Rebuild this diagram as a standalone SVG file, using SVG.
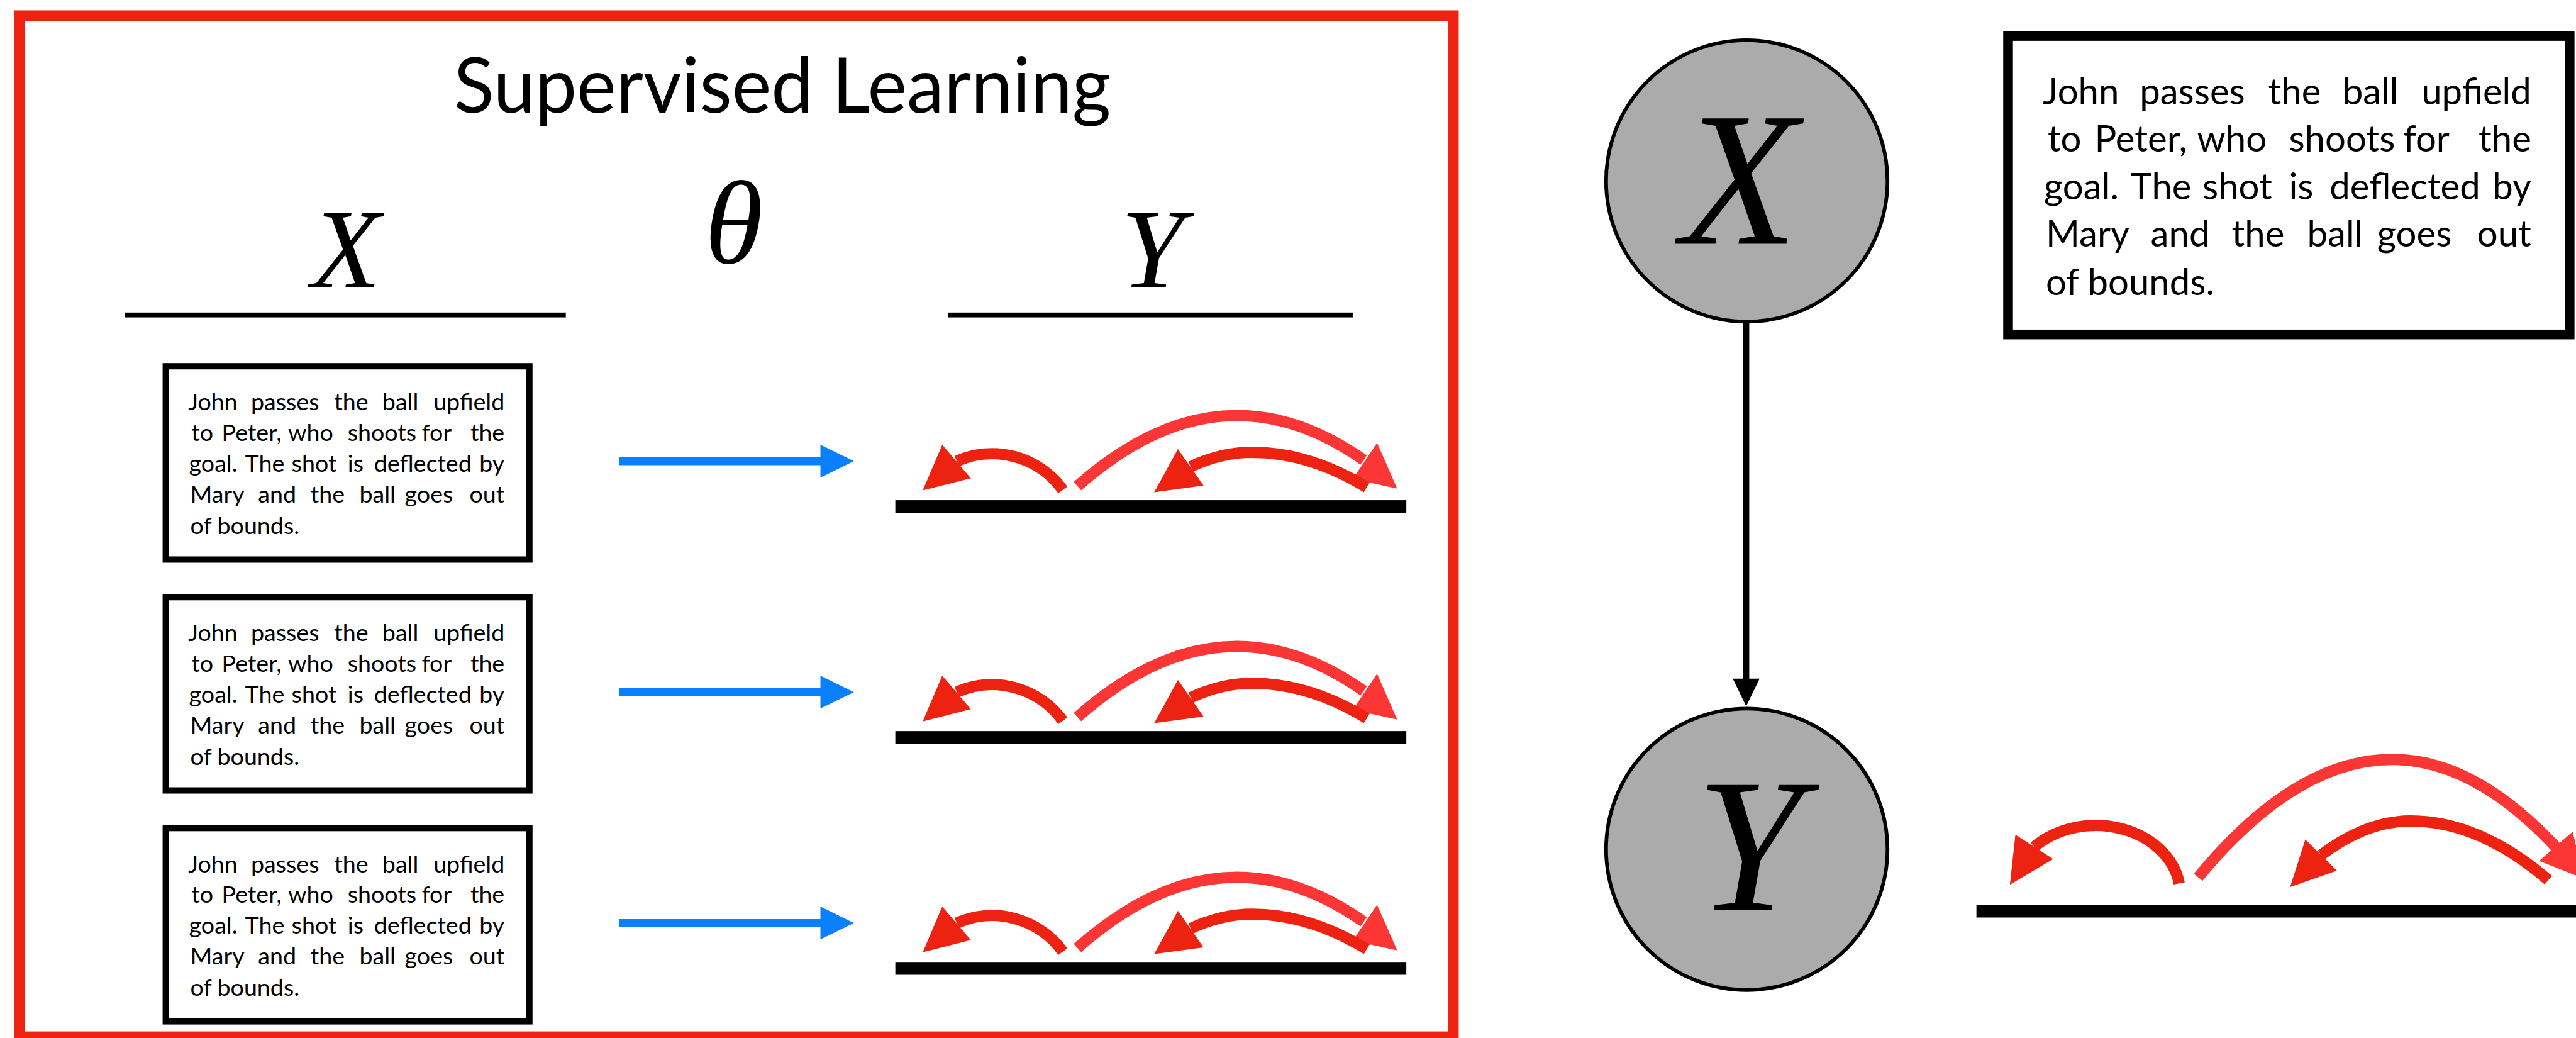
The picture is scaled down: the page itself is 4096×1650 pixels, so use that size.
<svg xmlns="http://www.w3.org/2000/svg" width="4096" height="1650" viewBox="0 0 4096 1650">
<style>
.bt{font-family:Lato,"Open Sans","Liberation Sans",sans-serif;font-size:60px;fill:#000}
.boxr{fill:#fff;stroke:#000;stroke-width:16}
.math{font-family:"Liberation Serif","DejaVu Serif",serif;font-style:italic;fill:#000}
.ad{fill:none;stroke:#EE2211;stroke-width:18.5}
.al{fill:none;stroke:#FC3535;stroke-width:18.5}
.hd{fill:#EE2211}
.hl{fill:#FC3535}
.bar{fill:#000}
.blue{stroke:#0A80FF;stroke-width:13;fill:none}
.blueh{fill:#0A80FF}
.node{fill:#ABABAB;stroke:#000;stroke-width:6}
.end{text-anchor:end}
</style>
<rect width="4096" height="1650" fill="#fff"/>
<g transform="scale(0.96845)">
<g id="frame"><rect x="32" y="26" width="2354" height="1676" fill="none" stroke="#EE2211" stroke-width="18"/></g>
<g id="title"><text x="745" y="185" font-family="Lato,'Open Sans',sans-serif" font-size="127" textLength="1079" lengthAdjust="spacingAndGlyphs">Supervised Learning</text></g>
<g id="labels">
<text class="math" x="568" y="472" font-size="187" text-anchor="middle">X</text>
<text class="math" x="1205" y="432" font-size="195" text-anchor="middle">θ</text>
<text class="math" x="1892" y="472" font-size="187" text-anchor="middle">Y</text>
<rect x="205" y="513" width="724" height="8" fill="#000"/>
<rect x="1557" y="513" width="664" height="8" fill="#000"/>
</g>
<g id="box-1" transform="translate(267,596) scale(0.6475)">
<rect x="8" y="8" width="922" height="490" class="boxr"/>
<text class="bt" y="120"><tspan x="65">John</tspan><tspan x="224">passes</tspan><tspan x="435">the</tspan><tspan x="557">ball</tspan><tspan x="867" class="end">upfield</tspan></text>
<text class="bt" y="198"><tspan x="73">to</tspan><tspan x="150">Peter,</tspan><tspan x="318">who</tspan><tspan x="469">shoots</tspan><tspan x="657">for</tspan><tspan x="867" class="end">the</tspan></text>
<text class="bt" y="276"><tspan x="67">goal.</tspan><tspan x="209">The</tspan><tspan x="327">shot</tspan><tspan x="469">is</tspan><tspan x="536">deflected</tspan><tspan x="867" class="end">by</tspan></text>
<text class="bt" y="354"><tspan x="70">Mary</tspan><tspan x="242">and</tspan><tspan x="375">the</tspan><tspan x="499">ball</tspan><tspan x="614">goes</tspan><tspan x="867" class="end">out</tspan></text>
<text class="bt" x="70" y="433">of bounds.</text>
</g>
<g id="box-2" transform="translate(267,975) scale(0.6475)">
<rect x="8" y="8" width="922" height="490" class="boxr"/>
<text class="bt" y="120"><tspan x="65">John</tspan><tspan x="224">passes</tspan><tspan x="435">the</tspan><tspan x="557">ball</tspan><tspan x="867" class="end">upfield</tspan></text>
<text class="bt" y="198"><tspan x="73">to</tspan><tspan x="150">Peter,</tspan><tspan x="318">who</tspan><tspan x="469">shoots</tspan><tspan x="657">for</tspan><tspan x="867" class="end">the</tspan></text>
<text class="bt" y="276"><tspan x="67">goal.</tspan><tspan x="209">The</tspan><tspan x="327">shot</tspan><tspan x="469">is</tspan><tspan x="536">deflected</tspan><tspan x="867" class="end">by</tspan></text>
<text class="bt" y="354"><tspan x="70">Mary</tspan><tspan x="242">and</tspan><tspan x="375">the</tspan><tspan x="499">ball</tspan><tspan x="614">goes</tspan><tspan x="867" class="end">out</tspan></text>
<text class="bt" x="70" y="433">of bounds.</text>
</g>
<g id="box-3" transform="translate(267,1354) scale(0.6475)">
<rect x="8" y="8" width="922" height="490" class="boxr"/>
<text class="bt" y="120"><tspan x="65">John</tspan><tspan x="224">passes</tspan><tspan x="435">the</tspan><tspan x="557">ball</tspan><tspan x="867" class="end">upfield</tspan></text>
<text class="bt" y="198"><tspan x="73">to</tspan><tspan x="150">Peter,</tspan><tspan x="318">who</tspan><tspan x="469">shoots</tspan><tspan x="657">for</tspan><tspan x="867" class="end">the</tspan></text>
<text class="bt" y="276"><tspan x="67">goal.</tspan><tspan x="209">The</tspan><tspan x="327">shot</tspan><tspan x="469">is</tspan><tspan x="536">deflected</tspan><tspan x="867" class="end">by</tspan></text>
<text class="bt" y="354"><tspan x="70">Mary</tspan><tspan x="242">and</tspan><tspan x="375">the</tspan><tspan x="499">ball</tspan><tspan x="614">goes</tspan><tspan x="867" class="end">out</tspan></text>
<text class="bt" x="70" y="433">of bounds.</text>
</g>
<g id="arcs-1">
<rect class="bar" x="1470" y="821" width="839" height="21"/>
<path class="ad" d="M1745 804A143 143 0 0 0 1571 757"/><polygon class="hd" points="1547,730 1515,805 1594,785"/>
<path class="al" d="M1769 798Q1900 682 2031 682Q2135 682 2239 755"/><polygon class="hl" points="2261,727 2294,802 2221,786"/>
<path class="ad" d="M2244 800Q2150 742.5 2056 742.5Q2005.5 742.5 1955 766"/><polygon class="hd" points="1934,737 1895,808 1976,797"/>
</g>
<g id="arcs-2" transform="translate(0,379)">
<rect class="bar" x="1470" y="821" width="839" height="21"/>
<path class="ad" d="M1745 804A143 143 0 0 0 1571 757"/><polygon class="hd" points="1547,730 1515,805 1594,785"/>
<path class="al" d="M1769 798Q1900 682 2031 682Q2135 682 2239 755"/><polygon class="hl" points="2261,727 2294,802 2221,786"/>
<path class="ad" d="M2244 800Q2150 742.5 2056 742.5Q2005.5 742.5 1955 766"/><polygon class="hd" points="1934,737 1895,808 1976,797"/>
</g>
<g id="arcs-3" transform="translate(0,758)">
<rect class="bar" x="1470" y="821" width="839" height="21"/>
<path class="ad" d="M1745 804A143 143 0 0 0 1571 757"/><polygon class="hd" points="1547,730 1515,805 1594,785"/>
<path class="al" d="M1769 798Q1900 682 2031 682Q2135 682 2239 755"/><polygon class="hl" points="2261,727 2294,802 2221,786"/>
<path class="ad" d="M2244 800Q2150 742.5 2056 742.5Q2005.5 742.5 1955 766"/><polygon class="hd" points="1934,737 1895,808 1976,797"/>
</g>
<g id="node-X">
<circle class="node" cx="2868" cy="297" r="231"/>
<text class="math" x="2856" y="400" font-size="314" text-anchor="middle">X</text>
</g>
<g id="node-Y">
<circle class="node" cx="2868" cy="1394" r="231"/>
<text class="math" x="2872" y="1494" font-size="314" text-anchor="middle">Y</text>
</g>
<g id="box-right" transform="translate(3289,51)">
<rect x="8" y="8" width="922" height="490" class="boxr"/>
<text class="bt" y="120"><tspan x="65">John</tspan><tspan x="224">passes</tspan><tspan x="435">the</tspan><tspan x="557">ball</tspan><tspan x="867" class="end">upfield</tspan></text>
<text class="bt" y="198"><tspan x="73">to</tspan><tspan x="150">Peter,</tspan><tspan x="318">who</tspan><tspan x="469">shoots</tspan><tspan x="657">for</tspan><tspan x="867" class="end">the</tspan></text>
<text class="bt" y="276"><tspan x="67">goal.</tspan><tspan x="209">The</tspan><tspan x="327">shot</tspan><tspan x="469">is</tspan><tspan x="536">deflected</tspan><tspan x="867" class="end">by</tspan></text>
<text class="bt" y="354"><tspan x="70">Mary</tspan><tspan x="242">and</tspan><tspan x="375">the</tspan><tspan x="499">ball</tspan><tspan x="614">goes</tspan><tspan x="867" class="end">out</tspan></text>
<text class="bt" x="70" y="433">of bounds.</text>
</g>
<g id="arcs-right">
<rect class="bar" x="3245" y="1485" width="1000" height="21"/>
<path class="ad" d="M3578 1450A139 113 0 0 0 3340 1390"/><polygon class="hd" points="3309,1370 3300,1452 3371,1410"/>
<path class="al" d="M3609 1440Q3768.5 1246.5 3928 1246.5Q4062 1246.5 4196 1390"/><polygon class="hl" points="4224,1365 4242,1442 4169,1413"/>
<path class="ad" d="M4184 1444.5Q4071 1347.5 3958 1347.5Q3884.5 1347.5 3811 1403.5"/><polygon class="hd" points="3785,1378 3760,1456 3837,1429"/>
</g>
<g id="connectors">
<line class="blue" x1="1016" y1="757" x2="1349" y2="757"/><polygon class="blueh" points="1347,730 1402,757 1347,784"/>
<line class="blue" x1="1016" y1="1136" x2="1349" y2="1136"/><polygon class="blueh" points="1347,1109 1402,1136 1347,1163"/>
<line class="blue" x1="1016" y1="1515" x2="1349" y2="1515"/><polygon class="blueh" points="1347,1488 1402,1515 1347,1542"/>
<line x1="2867" y1="528" x2="2867" y2="1116" stroke="#000" stroke-width="10"/><polygon points="2845,1114 2889,1114 2867,1159" fill="#000"/>
</g>
</g>
</svg>
